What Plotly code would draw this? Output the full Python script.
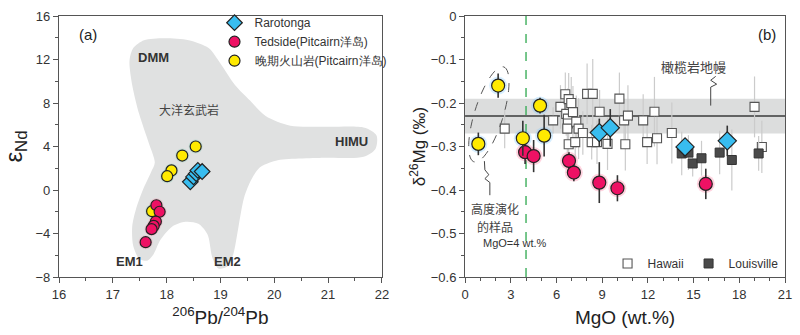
import numpy as np
import plotly.graph_objects as go

# ---------------- Panel (a): 206Pb/204Pb vs eNd ----------------
raro_pb = [18.44, 18.50, 18.55, 18.58, 18.66]
raro_nd = [0.75, 1.20, 1.50, 1.80, 1.70]
ted_pb = [17.81, 17.87, 17.80, 17.76, 17.72, 17.61]
ted_nd = [-1.40, -2.00, -2.90, -3.30, -3.60, -4.80]
late_pb = [18.54, 18.29, 18.09, 18.01, 17.73]
late_nd = [4.00, 3.17, 1.80, 1.27, -1.95]

# outline of the oceanic-basalt field (background area)
field_pb = [17.31, 17.38, 17.58, 17.95, 18.41, 18.78, 19.00, 19.27, 19.55, 19.84, 20.30, 20.98,
            21.68, 21.90, 21.88, 21.66, 20.93, 20.03, 19.73, 19.57, 19.44, 19.33, 19.24, 19.13,
            18.96, 18.85, 18.76, 18.59, 18.35, 18.10, 17.88, 17.76, 17.64, 17.49, 17.38, 17.36,
            17.43, 17.56, 17.71, 17.78, 17.67, 17.49, 17.36, 17.31]
field_nd = [11.89, 13.05, 13.77, 13.95, 13.77, 13.05, 11.63, 9.66, 8.23, 6.80, 5.91, 5.82,
            5.73, 5.02, 3.77, 3.05, 2.96, 2.70, 2.07, 0.91, -0.70, -3.55, -5.88, -7.04,
            -7.21, -6.23, -4.09, -3.11, -2.93, -3.38, -4.63, -5.88, -6.50, -6.32, -5.16, -3.38,
            -1.77, 0.02, 1.63, 2.52, 4.30, 6.98, 9.66, 11.89]

# ---------------- Panel (b): MgO vs d26Mg ----------------
hw_mgo = [2.60, 5.78, 6.26, 6.58, 6.80, 6.97, 6.64, 6.75, 7.08, 6.75, 6.71, 7.30, 7.45, 7.73,
          6.80, 7.23, 8.01, 8.38, 8.83, 8.31, 8.66, 9.35, 10.13, 10.44, 10.69, 10.52, 11.69,
          11.95, 12.43, 12.60, 13.57, 19.00, 19.48]
hw_mg = [-0.259, -0.240, -0.209, -0.180, -0.191, -0.200, -0.225, -0.236, -0.221, -0.247, -0.259,
         -0.243, -0.259, -0.269, -0.295, -0.290, -0.179, -0.179, -0.220, -0.290, -0.290, -0.294,
         -0.190, -0.240, -0.229, -0.295, -0.240, -0.290, -0.220, -0.281, -0.269, -0.209, -0.301]
hw_err = [0.045, 0.03, 0.05, 0.05, 0.06, 0.06, 0.05, 0.07, 0.06, 0.05, 0.06, 0.06, 0.07, 0.05,
          0.05, 0.06, 0.07, 0.08, 0.05, 0.04, 0.05, 0.06, 0.06, 0.05, 0.07, 0.06, 0.06,
          0.05, 0.08, 0.06, 0.07, 0.07, 0.06]
lv_mgo = [14.22, 14.66, 14.94, 15.52, 16.71, 17.51, 19.27]
lv_mg = [-0.316, -0.314, -0.339, -0.327, -0.314, -0.331, -0.316]
lv_err = [0.05, 0.04, 0.03, 0.04, 0.05, 0.07, 0.04]
rr_mgo = [8.81, 9.53, 14.44, 17.21]
rr_mg = [-0.268, -0.257, -0.301, -0.287]
rr_err = [0.032, 0.043, 0.02, 0.035]
td_mgo = [3.94, 4.50, 6.82, 7.14, 8.81, 10.00, 15.80]
td_mg = [-0.313, -0.322, -0.333, -0.360, -0.383, -0.396, -0.386]
td_err = [0.027, 0.037, 0.02, 0.02, 0.047, 0.03, 0.035]
lt_mgo = [0.87, 2.17, 4.92, 3.79, 5.19]
lt_mg = [-0.294, -0.160, -0.206, -0.281, -0.275]
lt_err = [0.026, 0.028, 0.018, 0.04, 0.048]

mantle_lo, mantle_hi, mantle_mid = -0.27, -0.19, -0.23
mgo_cut = 4

# ---------------- layout geometry (pixels) ----------------
W, H = 800, 335
ML, MR, MT, MB = 59, 8, 9, 58
PW = W - ML - MR
A_X0, A_X1 = 59, 385
B_X0, B_X1 = 469, 792
dom_a = [(A_X0 - ML) / PW, (A_X1 - ML) / PW]
dom_b = [(B_X0 - ML) / PW, (B_X1 - ML) / PW]
Y_TOP, Y_BOT = MT, H - MB
PH = Y_BOT - Y_TOP


def b_px2data(px, py):
    return (px - B_X0) / (B_X1 - B_X0) * 21.0, -(py - Y_TOP) / PH * 0.6


YEL = "#ffea00"
RED = "#ee1164"
BLU = "#38bdf0"
EDGE = "#222222"
FONT = "Arial, Liberation Sans, sans-serif"
CJK = "Noto Sans CJK SC"

fig = go.Figure()

# field
fig.add_trace(go.Scatter(x=field_pb, y=field_nd, mode="lines", fill="toself",
                         line=dict(color="#e0e1e1", width=0, shape="spline", smoothing=0.8),
                         fillcolor="#e0e1e1", showlegend=False, hoverinfo="skip",
                         xaxis="x", yaxis="y"))
# halos (a)
fig.add_trace(go.Scatter(x=late_pb, y=late_nd, mode="markers", showlegend=False, hoverinfo="skip",
                         marker=dict(size=14, color="rgba(90,200,170,0.22)", line=dict(width=0)),
                         xaxis="x", yaxis="y"))
fig.add_trace(go.Scatter(x=ted_pb, y=ted_nd, mode="markers", showlegend=False, hoverinfo="skip",
                         marker=dict(size=14, color="rgba(255,110,150,0.25)", line=dict(width=0)),
                         xaxis="x", yaxis="y"))
fig.add_trace(go.Scatter(x=late_pb, y=late_nd, mode="markers", name="晚期火山岩(Pitcairn洋岛)",
                         legendrank=3,
                         marker=dict(symbol="circle", size=11, color=YEL, line=dict(color=EDGE, width=1.2)),
                         xaxis="x", yaxis="y"))
fig.add_trace(go.Scatter(x=ted_pb, y=ted_nd, mode="markers", name="Tedside(Pitcairn洋岛)",
                         legendrank=2,
                         marker=dict(symbol="circle", size=11, color=RED, line=dict(color=EDGE, width=1.2)),
                         xaxis="x", yaxis="y"))
fig.add_trace(go.Scatter(x=raro_pb, y=raro_nd, mode="markers", name="Rarotonga",
                         legendrank=1,
                         marker=dict(symbol="diamond", size=12, color=BLU, line=dict(color=EDGE, width=1.2)),
                         xaxis="x", yaxis="y"))

# panel (b)
grey_err = dict(type="data", visible=True, color="#cbcbcb", thickness=1.2, width=0)
dark_err = dict(color="#333333", thickness=1.6, width=0)
fig.add_trace(go.Scatter(x=hw_mgo, y=hw_mg, mode="markers", name="Hawaii", legend="legend2",
                         error_y=dict(array=hw_err, **grey_err),
                         marker=dict(symbol="square", size=9, color="white", line=dict(color="#555555", width=1.1)),
                         xaxis="x2", yaxis="y2"))
fig.add_trace(go.Scatter(x=lv_mgo, y=lv_mg, mode="markers", name="Louisville", legend="legend2",
                         error_y=dict(array=lv_err, **grey_err),
                         marker=dict(symbol="square", size=9, color="#4a4a4a", line=dict(color="#333333", width=1)),
                         xaxis="x2", yaxis="y2"))
fig.add_trace(go.Scatter(x=lt_mgo, y=lt_mg, mode="markers", showlegend=False, hoverinfo="skip",
                         marker=dict(size=18, color="rgba(120,200,255,0.3)", line=dict(width=0)),
                         xaxis="x2", yaxis="y2"))
fig.add_trace(go.Scatter(x=td_mgo, y=td_mg, mode="markers", showlegend=False, hoverinfo="skip",
                         marker=dict(size=18, color="rgba(255,110,150,0.3)", line=dict(width=0)),
                         xaxis="x2", yaxis="y2"))
fig.add_trace(go.Scatter(x=rr_mgo, y=rr_mg, mode="markers", showlegend=False,
                         error_y=dict(type="data", array=rr_err, **dark_err),
                         marker=dict(symbol="diamond", size=14, color=BLU, line=dict(color=EDGE, width=1.2)),
                         xaxis="x2", yaxis="y2"))
fig.add_trace(go.Scatter(x=td_mgo, y=td_mg, mode="markers", showlegend=False,
                         error_y=dict(type="data", array=td_err, **dark_err),
                         marker=dict(symbol="circle", size=13, color=RED, line=dict(color=EDGE, width=1.2)),
                         xaxis="x2", yaxis="y2"))
fig.add_trace(go.Scatter(x=lt_mgo, y=lt_mg, mode="markers", showlegend=False,
                         error_y=dict(type="data", array=lt_err, **dark_err),
                         marker=dict(symbol="circle", size=13, color=YEL, line=dict(color=EDGE, width=1.2)),
                         xaxis="x2", yaxis="y2"))

# ---------- shapes ----------
shapes = []
shapes.append(dict(type="rect", xref="x2", yref="y2", x0=0, x1=21, y0=mantle_lo, y1=mantle_hi,
                   fillcolor="#dcdddd", line=dict(width=0), layer="below"))
shapes.append(dict(type="line", xref="x2", yref="y2", x0=0, x1=21, y0=mantle_mid, y1=mantle_mid,
                   line=dict(color="#3a3a3a", width=1.5), layer="below"))
shapes.append(dict(type="line", xref="x2", yref="y2", x0=mgo_cut, x1=mgo_cut, y0=-0.6, y1=0,
                   line=dict(color="#2fa84f", width=1.3, dash="dash"), layer="below"))

# dashed ellipse around evolved samples (pixel-space ellipse converted to data)
t = np.linspace(0, 2 * np.pi, 60)
cx, cy, a, b = 493.0, 110.0, 51.0, 14.5
ang = np.deg2rad(-73.0)
ex = cx + a * np.cos(t) * np.cos(ang) - b * np.sin(t) * np.sin(ang)
ey = cy + a * np.cos(t) * np.sin(ang) + b * np.sin(t) * np.cos(ang)
pts = [b_px2data(px, py) for px, py in zip(ex, ey)]
path = "M " + " L ".join(f"{p[0]:.4f},{p[1]:.5f}" for p in pts) + " Z"
shapes.append(dict(type="path", xref="x2", yref="y2", path=path,
                   line=dict(color="#555555", width=1, dash="dash")))


def squiggle(pix):
    pts = [b_px2data(px, py) for px, py in pix]
    return "M " + " L ".join(f"{p[0]:.4f},{p[1]:.5f}" for p in pts)


shapes.append(dict(type="path", xref="x2", yref="y2",
                   path=squiggle([(488.5, 158), (489, 167), (493, 172), (489, 176), (494, 180), (494, 193)]),
                   line=dict(color="#444444", width=1)))
shapes.append(dict(type="path", xref="x2", yref="y2",
                   path=squiggle([(717, 101), (717, 82), (723, 79), (717, 75), (722, 71)]),
                   line=dict(color="#444444", width=1)))

# ---------- annotations ----------
ann = []


def txt(x, y, s, xr, yr, size=12, bold=False, font=FONT, color="#222222"):
    ann.append(dict(x=x, y=y, xref=xr, yref=yr, text=(f"<b>{s}</b>" if bold else s), showarrow=False,
                    font=dict(family=font, size=size, color=color), xanchor="center", yanchor="middle"))


txt(16.53, 14.3, "(a)", "x", "y", size=15)
txt(17.76, 12.16, "DMM", "x", "y", size=13, bold=True, color="#333333")
txt(18.41, 7.43, "大洋玄武岩", "x", "y", size=12, font=CJK, color="#444444")
txt(21.44, 4.48, "HIMU", "x", "y", size=13, bold=True, color="#333333")
txt(17.31, -6.6, "EM1", "x", "y", size=13, bold=True, color="#333333")
txt(19.14, -6.6, "EM2", "x", "y", size=13, bold=True, color="#333333")
txt(19.8, -0.042, "(b)", "x2", "y2", size=15)
txt(15.0, -0.115, "橄榄岩地幔", "x2", "y2", size=13, font=CJK, color="#444444")
txt(1.95, -0.4433, "高度演化", "x2", "y2", size=12, font=CJK, color="#444444")
txt(1.95, -0.4836, "的样品", "x2", "y2", size=12, font=CJK, color="#444444")
txt(3.25, -0.5216, "MgO=4 wt.%", "x2", "y2", size=11, color="#333333")

axis_common = dict(showline=True, linecolor="#555555", linewidth=1.2, mirror=True, ticks="outside",
                   ticklen=5, tickwidth=1, tickcolor="#555555", showgrid=False, zeroline=False,
                   tickfont=dict(family=FONT, size=13, color="#333333"))

fig.update_layout(
    width=W, height=H, margin=dict(l=ML, r=MR, t=MT, b=MB),
    paper_bgcolor="white", plot_bgcolor="white",
    xaxis=dict(domain=dom_a, range=[16, 22], dtick=1, tick0=16,
               minor=dict(dtick=0.5, ticks="outside", ticklen=3, tickcolor="#555555"),
               title=dict(text="<sup>206</sup>Pb/<sup>204</sup>Pb", font=dict(family=FONT, size=19, color="#222222"),
                          standoff=9),
               anchor="y", **axis_common),
    yaxis=dict(domain=[0, 1], range=[-8, 16], dtick=4, tick0=0,
               minor=dict(dtick=2, ticks="outside", ticklen=3, tickcolor="#555555"),
               title=dict(text="ε<sub>Nd</sub>", font=dict(family=FONT, size=24, color="#222222"), standoff=6),
               anchor="x", **axis_common),
    xaxis2=dict(domain=dom_b, range=[0, 21], dtick=3, tick0=0,
                minor=dict(dtick=1, ticks="outside", ticklen=3, tickcolor="#555555"),
                title=dict(text="MgO (wt.%)", font=dict(family=FONT, size=19, color="#222222"), standoff=9),
                anchor="y2", **axis_common),
    yaxis2=dict(domain=[0, 1], range=[-0.6, 0], dtick=0.1, tick0=0,
                minor=dict(dtick=0.05, ticks="outside", ticklen=3, tickcolor="#555555"),
                title=dict(text="δ<sup>26</sup>Mg (‰)", font=dict(family=FONT, size=17, color="#222222"), standoff=0),
                anchor="x2", **axis_common),
    legend=dict(x=(216 - ML) / PW, y=1 + 8 / PH, xanchor="left", yanchor="top",
                bgcolor="rgba(0,0,0,0)", font=dict(family=FONT, size=12, color="#333333"),
                tracegroupgap=0, itemwidth=30),
    legend2=dict(orientation="h", x=0.998, y=-1 / PH,
                 xanchor="right", yanchor="bottom", bgcolor="rgba(0,0,0,0)",
                 font=dict(family=FONT, size=12, color="#333333"), itemwidth=30),
    shapes=shapes, annotations=ann, showlegend=True,
)

fig.write_html("out.html")
